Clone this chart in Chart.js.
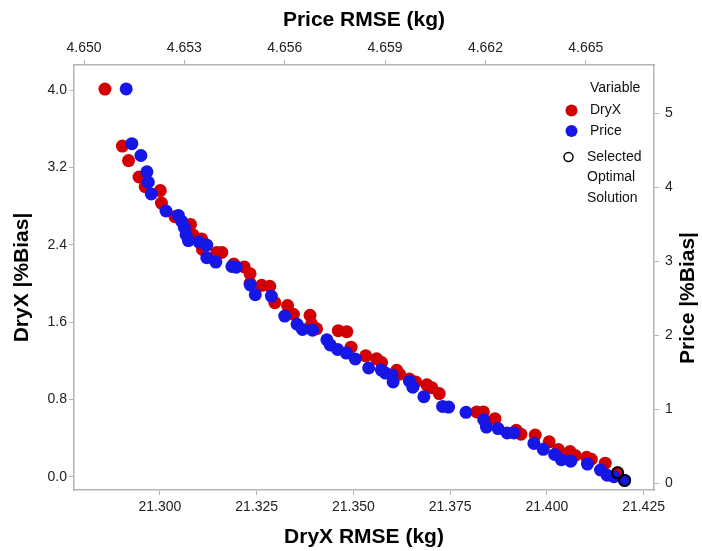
<!DOCTYPE html>
<html>
<head>
<meta charset="utf-8">
<script src="https://cdn.jsdelivr.net/npm/chart.js@4/dist/chart.umd.min.js"></script>
<style>
  html, body { margin: 0; padding: 0; background: #fff; }
  #wrap { width: 702px; height: 551px; }
</style>
</head>
<body>
<div id="wrap"><canvas id="c" width="702" height="551"></canvas></div>
<script>
// Pareto front of candidate solutions: DryX objectives (bottom / left axes)
const dryxRmse = [21.2858, 21.2903, 21.2919, 21.2946, 21.2962, 21.3001, 21.3004, 21.3039, 21.3079, 21.3086,
  21.3108, 21.3110, 21.3147, 21.3160, 21.3191, 21.3218, 21.3233, 21.3233, 21.3263, 21.3284,
  21.3297, 21.3330, 21.3345, 21.3388, 21.3392, 21.3405, 21.3461, 21.3483, 21.3494, 21.3532,
  21.3560, 21.3573, 21.3612, 21.3619, 21.3645, 21.3661, 21.3690, 21.3703, 21.3722, 21.3819,
  21.3836, 21.3866, 21.3921, 21.3933, 21.3970, 21.4006, 21.4030, 21.4060, 21.4073, 21.4103,
  21.4115, 21.4151, 21.4183];
const dryxBias = [4.01, 3.42, 3.27, 3.10, 3.00, 2.96, 2.83, 2.69, 2.61, 2.50,
  2.46, 2.35, 2.32, 2.32, 2.20, 2.17, 2.10, 2.00, 1.98, 1.97,
  1.80, 1.77, 1.68, 1.67, 1.58, 1.53, 1.51, 1.50, 1.34, 1.25,
  1.22, 1.18, 1.10, 1.06, 1.01, 0.98, 0.95, 0.92, 0.86, 0.67,
  0.67, 0.60, 0.48, 0.44, 0.43, 0.36, 0.28, 0.26, 0.22, 0.20,
  0.18, 0.14, 0.04];

// Price objectives (top / right axes)
const priceRmse = [4.65126, 4.65143, 4.65170, 4.65188, 4.65192, 4.65201, 4.65245, 4.65282, 4.65292, 4.65300,
  4.65305, 4.65312, 4.65344, 4.65367, 4.65367, 4.65394, 4.65442, 4.65455, 4.65497, 4.65512,
  4.65560, 4.65600, 4.65637, 4.65653, 4.65683, 4.65726, 4.65736, 4.65758, 4.65784, 4.65811,
  4.65851, 4.65889, 4.65901, 4.65921, 4.65924, 4.65973, 4.65983, 4.66016, 4.66072, 4.66090,
  4.66142, 4.66195, 4.66203, 4.66238, 4.66265, 4.66285, 4.66345, 4.66373, 4.66407, 4.66427,
  4.66455, 4.66505, 4.66544, 4.66564, 4.66584, 4.66616];
const priceBias = [5.33, 4.59, 4.43, 4.21, 4.07, 3.91, 3.68, 3.62, 3.54, 3.46,
  3.36, 3.28, 3.26, 3.22, 3.05, 2.99, 2.93, 2.92, 2.68, 2.55,
  2.53, 2.26, 2.15, 2.08, 2.07, 1.94, 1.87, 1.81, 1.76, 1.68,
  1.56, 1.53, 1.49, 1.46, 1.37, 1.38, 1.30, 1.17, 1.04, 1.03,
  0.96, 0.86, 0.76, 0.74, 0.68, 0.68, 0.54, 0.46, 0.39, 0.32,
  0.30, 0.26, 0.18, 0.11, 0.09, 0.04];

// Chosen compromise solution
const selDryxRmse = [21.4183];
const selDryxBias = [0.04];
const selPriceRmse = [4.66616];
const selPriceBias = [0.04];

// Tick positions
const dryxRmseTicks = [21.300, 21.325, 21.350, 21.375, 21.400, 21.425];
const priceRmseTicks = [4.650, 4.653, 4.656, 4.659, 4.662, 4.665];
const dryxBiasTicks = [0.0, 0.8, 1.6, 2.4, 3.2, 4.0];
const priceBiasTicks = [0, 1, 2, 3, 4, 5];

const RED = '#d20000';
const BLUE = '#1616e6';
const AXIS = '#b4b4b4';
const FONT = "'Liberation Sans', Arial, sans-serif";

const pts = (xs, ys) => xs.map((x, i) => ({ x: x, y: ys[i] }));
const fixTicks = vals => scale => { scale.ticks = vals.map(v => ({ value: v })); };

function axisCommon(title, padTitle, ticksPad) {
  return {
    type: 'linear',
    grid: { display: true, drawOnChartArea: false, drawTicks: true, tickLength: 5, color: AXIS, lineWidth: 1 },
    border: { display: true, color: AXIS, width: 1.5 },
    ticks: { font: { family: FONT, size: 14 }, color: '#222', padding: ticksPad, autoSkip: false, maxRotation: 0 },
    title: { display: !!title, text: title, color: '#000', font: { family: FONT, size: 21, weight: 'bold' }, padding: padTitle }
  };
}

const xAxis = axisCommon('DryX RMSE (kg)', { top: 0, bottom: 1 }, 4);
Object.assign(xAxis, { position: 'bottom', min: 21.2778, max: 21.4277,
  afterBuildTicks: fixTicks(dryxRmseTicks), afterFit: s => { s.height = 61; } });
xAxis.ticks.callback = v => Number(v).toFixed(3);

const x2Axis = axisCommon('Price RMSE (kg)', { top: 8, bottom: 0 }, 3);
Object.assign(x2Axis, { position: 'top', min: 4.6497, max: 4.66704,
  afterBuildTicks: fixTicks(priceRmseTicks), afterFit: s => { s.height = 65; } });
x2Axis.ticks.callback = v => Number(v).toFixed(3);

const yAxis = axisCommon('DryX |%Bias|', { top: 10, bottom: 0 }, 2);
Object.assign(yAxis, { position: 'left', min: -0.138, max: 4.259,
  afterBuildTicks: fixTicks(dryxBiasTicks), afterFit: s => { s.width = 74; } });
yAxis.ticks.callback = v => Number(v).toFixed(1);

// Right axis title reads bottom-to-top like the left one, so it is drawn by the plugin below
const y2Axis = axisCommon('', { top: 0, bottom: 0 }, 6);
Object.assign(y2Axis, { position: 'right', min: -0.09, max: 5.653,
  afterBuildTicks: fixTicks(priceBiasTicks), afterFit: s => { s.width = 48; } });
y2Axis.ticks.callback = v => Number(v).toFixed(0);

// In-plot key for the two variables and the selected solution, plus the right axis title
const keyPlugin = {
  id: 'variableKey',
  afterDraw(chart) {
    const ctx = chart.ctx;
    ctx.save();
    ctx.font = '14px ' + FONT;
    ctx.fillStyle = '#111';
    ctx.textBaseline = 'middle';
    ctx.textAlign = 'left';
    ctx.fillText('Variable', 590, 88);
    ctx.fillText('DryX', 590, 110);
    ctx.fillText('Price', 590, 131);
    ctx.fillText('Selected', 587, 157);
    ctx.fillText('Optimal', 587, 177);
    ctx.fillText('Solution', 587, 198);
    ctx.fillStyle = RED;
    ctx.beginPath(); ctx.arc(571.5, 110.5, 6, 0, Math.PI * 2); ctx.fill();
    ctx.fillStyle = BLUE;
    ctx.beginPath(); ctx.arc(571.5, 131, 6, 0, Math.PI * 2); ctx.fill();
    ctx.strokeStyle = '#000';
    ctx.lineWidth = 1.5;
    ctx.beginPath(); ctx.arc(568.5, 157, 4.5, 0, Math.PI * 2); ctx.stroke();

    ctx.translate(688, 298);
    ctx.rotate(-Math.PI / 2);
    ctx.font = 'bold 21px ' + FONT;
    ctx.fillStyle = '#000';
    ctx.textAlign = 'center';
    ctx.fillText('Price |%Bias|', 0, 0);
    ctx.restore();
  }
};

new Chart(document.getElementById('c'), {
  type: 'scatter',
  data: {
    datasets: [
      { label: 'Selected (Price)', data: pts(selPriceRmse, selPriceBias), xAxisID: 'x2', yAxisID: 'y2', order: 0,
        pointRadius: 5.5, pointBackgroundColor: 'rgba(0,0,0,0)', pointBorderColor: '#000', pointBorderWidth: 2 },
      { label: 'Selected (DryX)', data: pts(selDryxRmse, selDryxBias), xAxisID: 'x', yAxisID: 'y', order: 0,
        pointRadius: 5.5, pointBackgroundColor: 'rgba(0,0,0,0)', pointBorderColor: '#000', pointBorderWidth: 2 },
      { label: 'Price', data: pts(priceRmse, priceBias), xAxisID: 'x2', yAxisID: 'y2', order: 1,
        pointRadius: 6.5, pointBackgroundColor: BLUE, pointBorderWidth: 0 },
      { label: 'DryX', data: pts(dryxRmse, dryxBias), xAxisID: 'x', yAxisID: 'y', order: 2,
        pointRadius: 6.5, pointBackgroundColor: RED, pointBorderWidth: 0 }
    ]
  },
  options: {
    responsive: false,
    animation: false,
    devicePixelRatio: 1,
    layout: { padding: 0 },
    plugins: { legend: { display: false }, tooltip: { enabled: false } },
    scales: { x: xAxis, x2: x2Axis, y: yAxis, y2: y2Axis }
  },
  plugins: [keyPlugin]
});
</script>
</body>
</html>
